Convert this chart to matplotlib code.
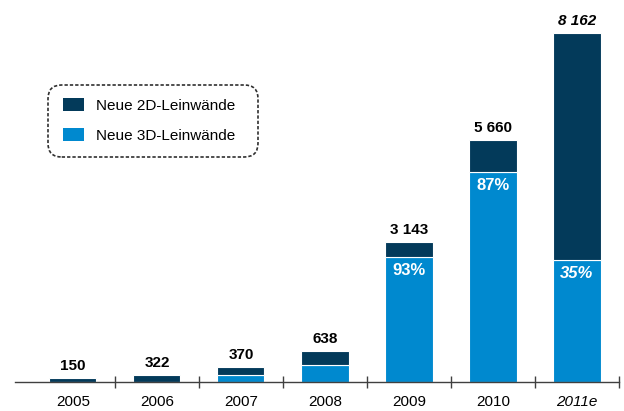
import matplotlib.pyplot as plt
from matplotlib.patches import FancyBboxPatch
from matplotlib.transforms import offset_copy

plt.rcParams['font.family'] = ['Liberation Sans', 'DejaVu Sans']

# Data
years = ['2005', '2006', '2007', '2008', '2009', '2010', '2011e']
total_labels = [150, 322, 370, 638, 3143, 5660, 8162]
# bar heights as drawn in the picture
bar_totals = [94, 164, 351, 725, 3274, 5660, 8162]
screens_3d = [0, 0, 164, 398, 2924, 4912, 2853]
share_labels = ['', '', '', '', '93%', '87%', '35%']
screens_2d = [t - s for t, s in zip(bar_totals, screens_3d)]

dark = '#033A5A'
light = '#0089CF'

fig = plt.figure(figsize=(6.24, 4.11), dpi=100)
W, H = 624, 411
ax = fig.add_axes([15 / W, 29 / H, 604 / W, 382 / H])

x = list(range(len(years)))
b3 = ax.bar(x, screens_3d, width=0.56, color=light, edgecolor='white', linewidth=0.8,
            label='Neue 3D-Leinwände')
b2 = ax.bar(x, screens_2d, bottom=screens_3d, width=0.56, color=dark, edgecolor='white',
            linewidth=0.8, label='Neue 2D-Leinwände')

ax.set_xlim(-0.69, 6.5)
ax.set_ylim(0, 8935)

# totals above bars
above = offset_copy(ax.transData, fig=fig, x=0, y=5, units='dots')
for i, t in enumerate(total_labels):
    style = 'italic' if years[i].endswith('e') else 'normal'
    ax.text(i, bar_totals[i], f'{t:,}'.replace(',', ' '), transform=above, ha='center',
            va='bottom', fontsize=11, fontweight='bold', fontstyle=style, color='black')

# 3D share inside bars
below = offset_copy(ax.transData, fig=fig, x=0, y=-6, units='dots')
for i, s in enumerate(share_labels):
    if s:
        style = 'italic' if years[i].endswith('e') else 'normal'
        ax.text(i, screens_3d[i], s, transform=below, ha='center', va='top',
                fontsize=12, fontweight='bold', fontstyle=style, color='white')

# axes styling
for side in ['left', 'right', 'top']:
    ax.spines[side].set_visible(False)
ax.spines['bottom'].set_color('#404040')
ax.spines['bottom'].set_linewidth(1.0)
ax.set_yticks([])
ax.set_xticks(x)
ax.set_xticklabels(years, fontsize=11)
ax.tick_params(axis='x', which='major', length=0, pad=9)
ax.get_xticklabels()[-1].set_fontstyle('italic')
ax.set_xticks([i + 0.5 for i in x], minor=True)
ax.tick_params(axis='x', which='minor', direction='inout', length=9, width=1.0, color='#404040')

# legend with a dashed rounded frame drawn separately
leg = ax.legend(handles=[b2, b3], loc='upper left', bbox_to_anchor=(63 / W, 1 - 98 / H),
                bbox_transform=fig.transFigure, fontsize=11, handlelength=1.35,
                handleheight=0.95, handletextpad=0.8, labelspacing=1.0,
                borderpad=0, borderaxespad=0, frameon=False)
for p in leg.get_patches():
    p.set_edgecolor('none')

box = FancyBboxPatch((48 / W, 1 - 157 / H), 210 / W, 72 / H,
                     boxstyle='round,pad=0,rounding_size=0.022', transform=fig.transFigure,
                     facecolor='white', edgecolor='#303030', linewidth=1.2,
                     linestyle=(0, (2, 1.2)), mutation_aspect=W / H, zorder=4)
ax.add_artist(box)

fig.savefig('out.png', dpi=100)
